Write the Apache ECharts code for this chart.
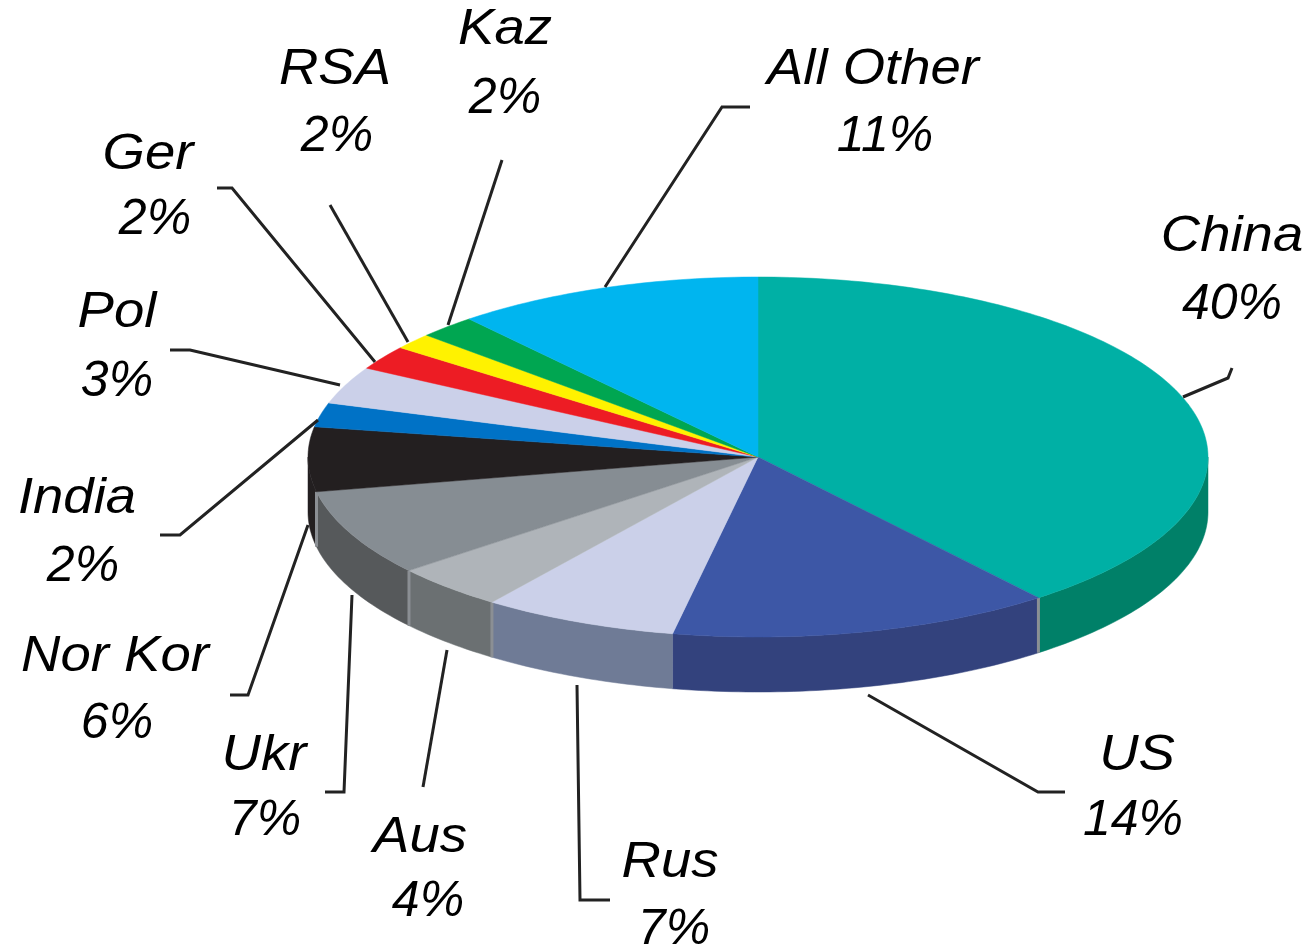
<!DOCTYPE html>
<html>
<head>
<meta charset="utf-8">
<style>
  html, body { margin: 0; padding: 0; background: #fff; }
  #main { width: 1305px; height: 946px; }
</style>
<script src="https://cdn.jsdelivr.net/npm/echarts@6/dist/echarts.min.js"></script>
</head>
<body>
<div id="main"></div>
<script>
// clockwise from 12 o'clock
const categories = ['China', 'US', 'Rus', 'Aus', 'Ukr', 'Nor Kor', 'India', 'Pol', 'Ger', 'RSA', 'Kaz', 'All Other']
// printed on the labels
const shares = [40, 14, 7, 4, 7, 6, 2, 3, 2, 2, 2, 11]
// slice sizes, they differ a little from the printed ones
const drawnShares = [39.3, 13.75, 7.03, 4.06, 7.78, 5.78, 2.17, 3.36, 2.17, 1.44, 2.08, 11.1]

const topColors = ['#00b0a5', '#3d57a6', '#cbd0e9', '#afb4b9', '#868d93', '#231f20', '#0072c6', '#cbd0e9', '#ed1c24', '#fff200', '#00a651', '#00b5ef']
const sideColors = ['#008068', '#33427d', '#6f7b96', '#6b7072', '#56595b', '#231f20', '#0072c6', '#cbd0e9', '#ed1c24', '#fff200', '#00a651', '#00b5ef']

// label layout: name x, name y, percent x, percent y
const labelPlaces = [
  [1232, 237, 1232, 305], [1137, 756, 1133, 821], [670, 863, 674, 930], [420, 838, 428, 902],
  [264, 756, 265, 821], [115, 657, 117, 724], [77, 499, 83, 567], [117, 313, 117, 382],
  [148, 155, 155, 220], [335, 70, 337, 137], [505, 30, 505, 99], [873, 70, 885, 137]
]
const leaderRoutes = [
  [[1183, 397], [1228, 378], [1232, 368]],
  [[868, 695], [1038, 792], [1065, 792]],
  [[577, 685], [580, 900], [610, 900]],
  [[447, 650], [423, 787]],
  [[352, 595], [344, 792], [325, 792]],
  [[308, 525], [248, 695], [230, 695]],
  [[318, 420], [180, 535], [160, 535]],
  [[340, 385], [190, 350], [170, 350]],
  [[375, 362], [232, 188], [217, 188]],
  [[408, 342], [330, 205]],
  [[448, 325], [502, 160]],
  [[605, 287], [722, 107], [750, 107]]
]

const cx = 758
const cy = 457
const rx = 450
const ry = 180
const depth = 55
const total = drawnShares.reduce((a, b) => a + b, 0)

function rimPoint (deg, drop) {
  const t = deg * Math.PI / 180
  return [cx + rx * Math.sin(t), cy - ry * Math.cos(t) + (drop || 0)]
}

function arcPoints (from, to, drop) {
  const pts = []
  for (let d = from; d < to; d += 1) pts.push(rimPoint(d, drop))
  pts.push(rimPoint(to, drop))
  return pts
}

function startAngle (i) {
  let sum = 0
  for (let k = 0; k < i; k++) sum += drawnShares[k]
  return sum / total * 360
}

const chart = echarts.init(document.getElementById('main'))

// the names in the picture are wider than the font, the percents are not
const labelText = (text, x, y, stretch) => ({
  type: 'text',
  x: x,
  y: y,
  scaleX: stretch,
  style: {
    text: text,
    x: 0,
    y: 0,
    align: 'center',
    verticalAlign: 'middle',
    fill: '#000',
    font: 'italic 50px "Liberation Sans", Arial, sans-serif'
  }
})

chart.setOption({
  animation: false,
  series: [
    {
      // walls first, only the part of the rim facing the viewer
      type: 'custom',
      coordinateSystem: 'none',
      silent: true,
      z: 1,
      data: categories.map((c, i) => [i]),
      renderItem: function (params, api) {
        const i = api.value(0)
        const from = Math.max(startAngle(i), 90)
        const to = Math.min(startAngle(i + 1), 270)
        if (to <= from) return { type: 'group', children: [] }
        const upper = arcPoints(from, to, 0)
        const lower = arcPoints(from, to, depth).reverse()
        const children = [{
          type: 'polygon',
          shape: { points: upper.concat(lower) },
          style: { fill: sideColors[i], stroke: sideColors[i], lineWidth: 0.5 }
        }]
        // pale seam where two walls meet, none between US and Rus
        if (from > 90 && i !== 2) {
          children.push({
            type: 'line',
            shape: {
              x1: rimPoint(from)[0], y1: rimPoint(from)[1],
              x2: rimPoint(from, depth)[0], y2: rimPoint(from, depth)[1]
            },
            style: { stroke: '#8b8f94', lineWidth: 3 }
          })
        }
        return { type: 'group', children: children }
      }
    },
    {
      type: 'custom',
      coordinateSystem: 'none',
      silent: true,
      z: 2,
      data: categories.map((c, i) => [i]),
      renderItem: function (params, api) {
        const i = api.value(0)
        const pts = [[cx, cy]].concat(arcPoints(startAngle(i), startAngle(i + 1), 0))
        return {
          type: 'polygon',
          shape: { points: pts },
          style: { fill: topColors[i], stroke: topColors[i], lineWidth: 0.5 }
        }
      }
    },
    {
      type: 'custom',
      coordinateSystem: 'none',
      silent: true,
      z: 3,
      data: categories.map((c, i) => [i]),
      renderItem: function (params, api) {
        const i = api.value(0)
        const p = labelPlaces[i]
        return {
          type: 'group',
          children: [
            {
              type: 'polyline',
              shape: { points: leaderRoutes[i] },
              style: { fill: null, stroke: '#222', lineWidth: 3 }
            },
            labelText(categories[i], p[0], p[1], 1.09),
            labelText(shares[i] + '%', p[2], p[3], 1)
          ]
        }
      }
    }
  ]
})
</script>
</body>
</html>
